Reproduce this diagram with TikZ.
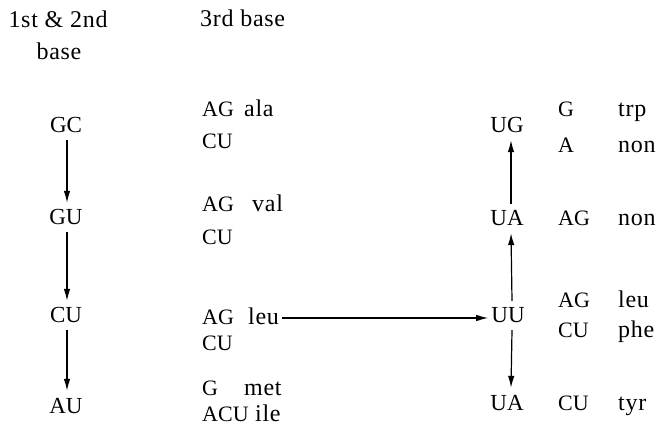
\documentclass[tikz,border=0pt]{standalone}
\usepackage{fontspec}
\setmainfont{Liberation Serif}
\newfontfamily\codefont{Liberation Serif}
\newfontfamily\wordfont{Liberation Serif}[LetterSpace=3]
\usetikzlibrary{arrows.meta}
\begin{document}
\begin{tikzpicture}[x=1bp,y=-1bp,
  every node/.style={inner sep=0pt},
  codon/.style={font=\codefont\fontsize{23bp}{26bp}\selectfont, anchor=base,
    text height=15bp, text depth=0pt, inner xsep=3bp, inner ysep=7bp},
  base3/.style={font=\codefont\fontsize{22bp}{24bp}\selectfont, anchor=base west,
    text height=14bp, text depth=0pt, inner xsep=1bp},
  amino/.style={font=\wordfont\fontsize{24bp}{26bp}\selectfont, anchor=base west,
    text height=14bp, text depth=0pt, inner xsep=1bp},
  hdr/.style={font=\wordfont\fontsize{24bp}{26bp}\selectfont, anchor=base},
  link/.style={line width=1.2bp, -{Latex[length=12bp,width=6.5bp]}}]
\useasboundingbox (0,0) rectangle (659,435);

% column headings
\node[hdr] (h1) at (58,28) {1st \& 2nd};
\node[hdr] (h2) at (59,60) {base};
\node[hdr, anchor=base west] (h3) at (200,27) {3rd base};

% first and second bases, left chain
\node[codon] (GC) at (66,133) {GC};
\node[codon] (GU) at (66,225) {GU};
\node[codon] (CUl) at (66,323) {CU};
\node[codon] (AU) at (66,413) {AU};

% third bases and amino acids, left block
\node[base3] (t1) at (201,117) {AG};
\node[amino] (a1) at (243,117) {ala};
\node[base3] (t2) at (201,149) {CU};
\node[base3] (t3) at (201,212) {AG};
\node[amino] (a3) at (251,212) {val};
\node[base3] (t4) at (201,245) {CU};
\node[base3] (t5) at (201,325) {AG};
\node[amino] (leu) at (247,325) {leu};
\node[base3] (t6) at (201,350) {CU};
\node[base3] (t7) at (201,395) {G};
\node[amino] (a7) at (243,395) {met};
\node[base3] (t8) at (201,421) {ACU};
\node[amino] (a8) at (254,421) {ile};

% first and second bases, right chain
\node[codon] (UG) at (507,133) {UG};
\node[codon] (UA) at (507,226) {UA};
\node[codon] (UU) at (508,323) {UU};
\node[codon] (UAb) at (507,410) {UA};

% third bases and amino acids, right block
\node[base3] (r1) at (557,117) {G};
\node[amino] (b1) at (617,117) {trp};
\node[base3] (r2) at (557,153) {A};
\node[amino] (b2) at (617,153) {non};
\node[base3] (r3) at (557,226) {AG};
\node[amino] (b3) at (617,226) {non};
\node[base3] (r4) at (557,308) {AG};
\node[amino] (b4) at (617,308) {leu};
\node[base3] (r5) at (557,337) {CU};
\node[amino] (b5) at (617,337) {phe};
\node[base3] (r6) at (557,410) {CU};
\node[amino] (b6) at (617,410) {tyr};

% transitions
\draw[link] ([xshift=1bp]GC.south) -- ([xshift=1bp]GU.north);
\draw[link] ([xshift=1bp]GU.south) -- ([xshift=1bp]CUl.north);
\draw[link] ([xshift=1bp]CUl.south) -- ([xshift=1bp]AU.north);
\draw[link] ([xshift=2bp]leu.east) -- (leu.east -| UU.west);
\draw[link] ([xshift=4bp]UU.north) -- ([xshift=4bp]UA.south);
\draw[link] ([xshift=4bp]UA.north) -- ([xshift=4bp]UG.south);
\draw[link] ([xshift=4bp]UU.south) -- ([xshift=4bp]UAb.north);
\end{tikzpicture}
\end{document}
